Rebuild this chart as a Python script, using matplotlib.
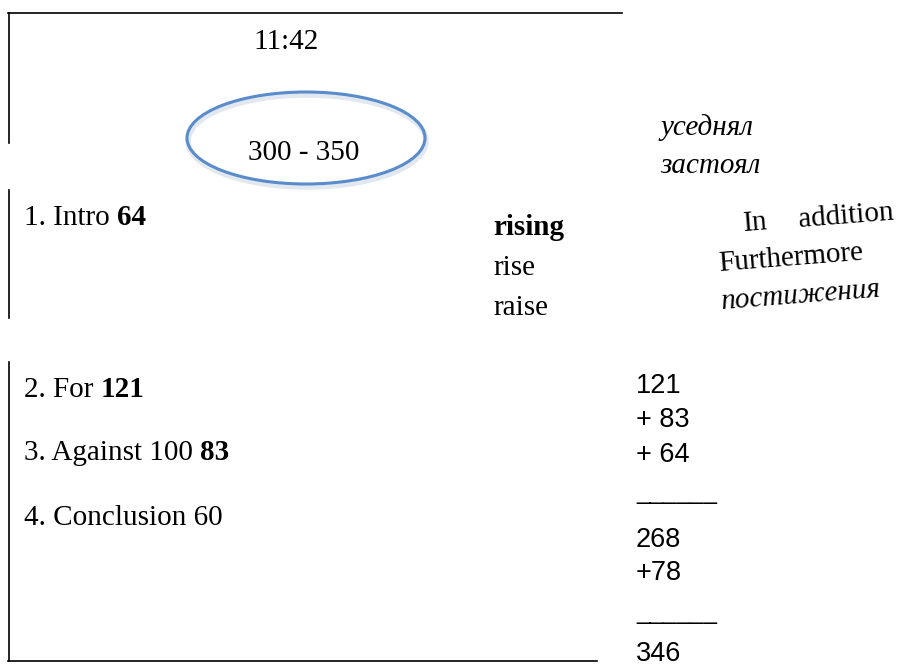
import matplotlib.pyplot as plt
from matplotlib.patches import Ellipse

# content of the note
time_label = "11:42"
word_range = "300 - 350"
outline = [("1. Intro ", "64"), ("2. For ", "121"),
           ("3. Against 100 ", "83"), ("4. Conclusion 60", "")]
verb_forms = ["rising", "rise", "raise"]
ru_words = ["уседнял", "застоял"]
linkers = ["Furthermore", "постижения"]
sum_lines = ["121", "+ 83", "+ 64", "______", "268", "+78", "______", "346"]

SERIF = "Liberation Serif"
SANS = "Liberation Sans"
FS = 21

fig = plt.figure(figsize=(8.99, 6.68), dpi=100)
ax = fig.add_axes([0, 0, 1, 1])
ax.set_xlim(0, 899)
ax.set_ylim(668, 0)
ax.axis('off')

# frame lines
ax.plot([8, 622], [13, 13], color='black', lw=1.2)
ax.plot([9, 9], [13, 143], color='black', lw=1.2)
ax.plot([9, 9], [190, 318], color='black', lw=1.2)
ax.plot([9, 9], [362, 661], color='black', lw=1.2)
ax.plot([8, 597], [661, 661], color='black', lw=1.2)

# time and target range in an ellipse
ax.text(286, 49, time_label, family=SERIF, fontsize=FS, ha='center', va='baseline')
ax.add_patch(Ellipse((307, 141), 238, 92, fill=False, ec='#e2e8f0', lw=4))
ax.add_patch(Ellipse((306, 138), 238, 92, fill=False, ec='#5a8ccc', lw=2.2))
ax.text(304, 160, word_range, family=SERIF, fontsize=FS, ha='center', va='baseline')

# outline of the essay
outline_y = [225, 397, 460, 525]
for (plain, bold), y in zip(outline, outline_y):
    t = ax.text(24, y, plain, family=SERIF, fontsize=FS, va='baseline')
    if bold:
        ax.annotate(bold, xycoords=t, xy=(1, 0), va='bottom',
                    family=SERIF, fontsize=FS, fontweight='bold')

# word forms
for i, (w, y) in enumerate(zip(verb_forms, [235, 275, 315])):
    ax.text(493, y, w, family=SERIF, fontsize=FS, va='baseline',
            fontweight='bold' if i == 0 else 'normal')

for w, y in zip(ru_words, [135, 173]):
    ax.text(660, y, w, family=SERIF, fontsize=FS, style='italic', va='baseline')

# slightly tilted linking words
tilt = dict(family=SERIF, fontsize=FS, rotation=4.5,
            rotation_mode='anchor', va='baseline')
ax.text(744, 231, "In", **tilt)
ax.text(799, 227, "addition", **tilt)
ax.text(719, 271, linkers[0], **tilt)
ax.text(722, 309, linkers[1], style='italic', **tilt)

# word count sum
sum_y = [393, 427, 462, 499, 547, 580, 619, 661]
for s, y in zip(sum_lines, sum_y):
    fs = 17.5 if s.startswith('_') else 19.5
    ax.text(636, y, s, family=SANS, fontsize=fs, va='baseline')

fig.savefig("out.png", dpi=100)
